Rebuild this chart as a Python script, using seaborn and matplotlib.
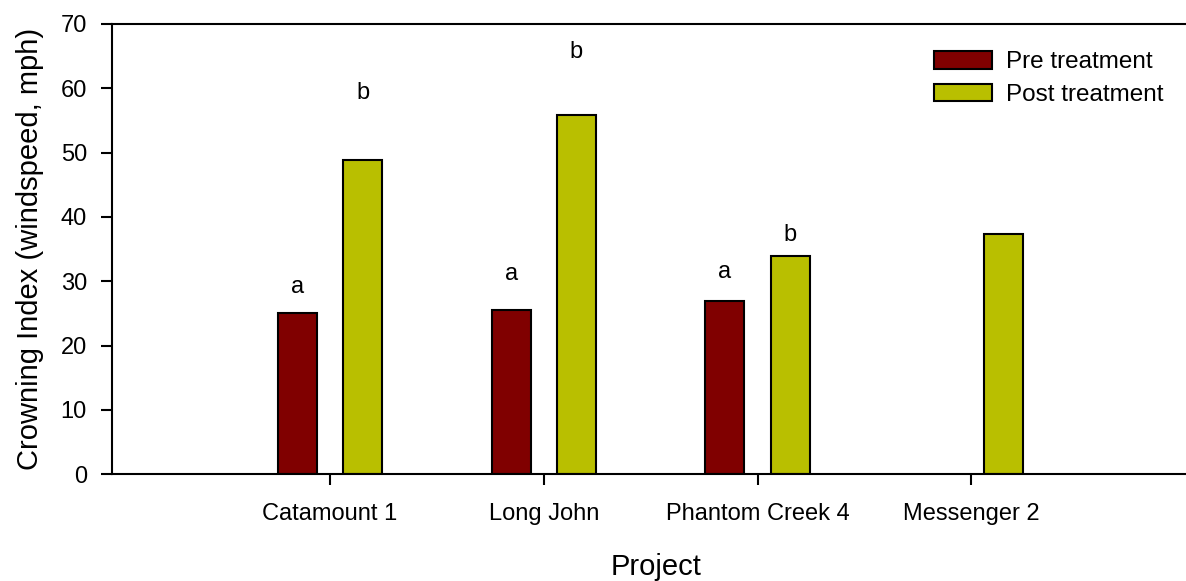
import numpy as np
import pandas as pd
import matplotlib
matplotlib.use("Agg")
import matplotlib.pyplot as plt
from matplotlib.patches import Patch
import seaborn as sns

# Data
projects = ["Catamount 1", "Long John", "Phantom Creek 4", "Messenger 2"]
pre_values = [25.0, 25.5, 26.9, np.nan]
post_values = [48.9, 55.8, 33.9, 37.4]
pre_letters = ["a", "a", "a", ""]
post_letters = ["b", "b", "b", ""]
pre_letter_y = [29.1, 31.1, 31.5, np.nan]
post_letter_y = [59.3, 65.7, 37.2, np.nan]
treatments = ["Pre treatment", "Post treatment"]
colors = ["#800000", "#B9BF00"]

rows = []
for p, v in zip(projects, pre_values):
    if not np.isnan(v):
        rows.append({"Project": p, "Treatment": treatments[0], "CI": v})
for p, v in zip(projects, post_values):
    if not np.isnan(v):
        rows.append({"Project": p, "Treatment": treatments[1], "CI": v})
df = pd.DataFrame(rows)

sns.set_style("white")
plt.rcParams["font.family"] = ["Liberation Sans", "DejaVu Sans"]
plt.rcParams["text.color"] = "black"
plt.rcParams["axes.labelcolor"] = "black"
plt.rcParams["xtick.color"] = "black"
plt.rcParams["ytick.color"] = "black"

fig = plt.figure(figsize=(11.86, 5.81), dpi=100)
ax = fig.add_axes([112 / 1186, 106.7 / 581, (1200 - 112) / 1186, 450.3 / 581])

sns.barplot(data=df, x="Project", y="CI", hue="Treatment",
            order=projects, hue_order=treatments, palette=colors,
            width=0.61, gap=0.40, edgecolor="black", linewidth=1.5,
            saturation=1, errorbar=None, legend=False, ax=ax)

# significance letters
offset = 0.1525
for i in range(len(projects)):
    if pre_letters[i]:
        ax.text(i - offset, pre_letter_y[i], pre_letters[i], ha="center",
                va="center", fontsize=17)
    if post_letters[i]:
        ax.text(i + offset, post_letter_y[i], post_letters[i], ha="center",
                va="center", fontsize=17)

ax.set_xlim(-1.02, 4.07)
ax.set_ylim(0, 70)
ax.set_yticks(range(0, 71, 10))
ax.tick_params(axis="both", which="major", labelsize=17, direction="out",
               length=8, width=1.5, color="black", left=True, bottom=True)
ax.tick_params(axis="x", pad=13)
ax.tick_params(axis="y", pad=10)

for side in ["left", "bottom", "top"]:
    ax.spines[side].set_visible(True)
    ax.spines[side].set_color("black")
    ax.spines[side].set_linewidth(1.5)
ax.spines["right"].set_visible(False)

ax.set_xlabel("Project", fontsize=21, labelpad=20)
ax.set_ylabel("Crowning Index (windspeed, mph)", fontsize=21, labelpad=12)

handles = [Patch(facecolor=c, edgecolor="black", linewidth=1.5) for c in colors]
fig.legend(handles, treatments, loc="upper left",
           bbox_to_anchor=(934 / 1186, 1 - 51 / 581), frameon=False,
           fontsize=17.5, handlelength=2.4, handleheight=0.75,
           handletextpad=0.55, labelspacing=0.42, borderpad=0,
           borderaxespad=0)

fig.savefig("out.png", dpi=100)
